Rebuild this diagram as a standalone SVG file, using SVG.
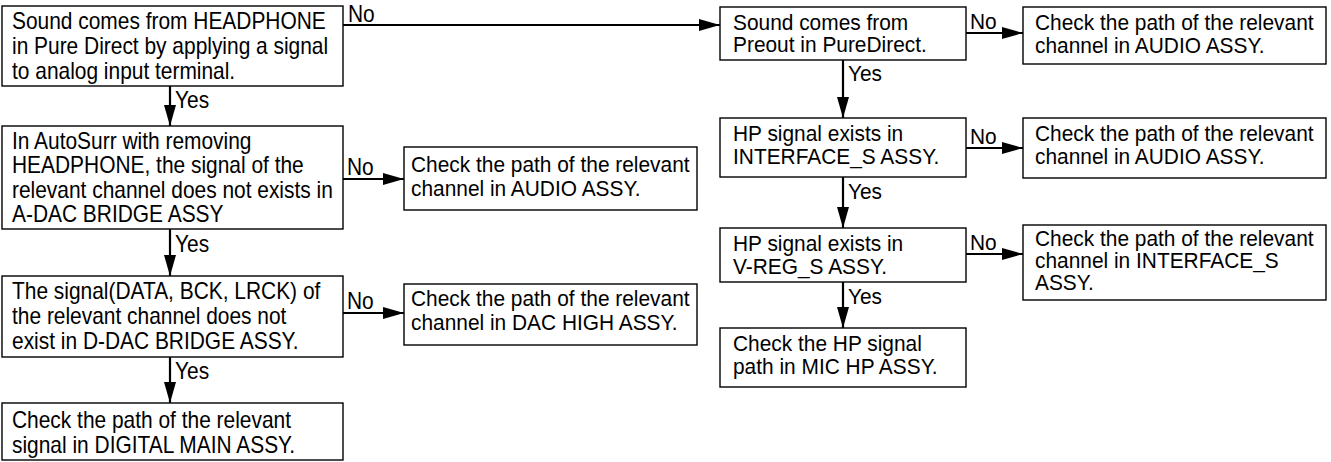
<svg xmlns="http://www.w3.org/2000/svg" width="1331" height="462" viewBox="0 0 1331 462">
<defs>
<style>
.box{fill:#fff;stroke:#000;stroke-width:1.4}
text{font-family:"Liberation Sans",Arial,sans-serif;font-size:23px;fill:#000}
.s{font-size:22px}
.c{stroke:#000;stroke-width:2.2;fill:none}
</style>
<marker id="ah" markerUnits="userSpaceOnUse" markerWidth="22" markerHeight="14" refX="21" refY="7" orient="auto">
<path d="M0,1 L21,7 L0,13 Z" fill="#000"/>
</marker>
</defs>
<rect width="1331" height="462" fill="#fff"/>
<g id="connectors">
<path class="c" d="M343,25 H720" marker-end="url(#ah)"/>
<path class="c" d="M170,86 V126" marker-end="url(#ah)"/>
<path class="c" d="M343,179 H404" marker-end="url(#ah)"/>
<path class="c" d="M170,229 V276" marker-end="url(#ah)"/>
<path class="c" d="M343,313 H404" marker-end="url(#ah)"/>
<path class="c" d="M170,357 V403" marker-end="url(#ah)"/>
<path class="c" d="M966,33 H1023" marker-end="url(#ah)"/>
<path class="c" d="M843,60 V118" marker-end="url(#ah)"/>
<path class="c" d="M966,148 H1023" marker-end="url(#ah)"/>
<path class="c" d="M843,177 V228" marker-end="url(#ah)"/>
<path class="c" d="M966,254 H1023" marker-end="url(#ah)"/>
<path class="c" d="M843,282 V328" marker-end="url(#ah)"/>
<text transform="matrix(0.91 0 0 1 348 22)">No</text>
<text transform="matrix(0.91 0 0 1 175 108)">Yes</text>
<text transform="matrix(0.91 0 0 1 347 175)">No</text>
<text transform="matrix(0.91 0 0 1 175 252)">Yes</text>
<text transform="matrix(0.91 0 0 1 347 309)">No</text>
<text transform="matrix(0.91 0 0 1 175 379)">Yes</text>
<text class="s" transform="matrix(0.95 0 0 1 970 29)">No</text>
<text class="s" transform="matrix(0.95 0 0 1 848 81)">Yes</text>
<text class="s" transform="matrix(0.95 0 0 1 970 144)">No</text>
<text class="s" transform="matrix(0.95 0 0 1 848 199)">Yes</text>
<text class="s" transform="matrix(0.95 0 0 1 970 250)">No</text>
<text class="s" transform="matrix(0.95 0 0 1 848 304)">Yes</text>
</g>
<g id="n1">
<rect class="box" x="2" y="6" width="341" height="80"/>
<g transform="matrix(0.91 0 0 1 12 0)">
<text y="29">Sound comes from HEADPHONE</text>
<text y="54">in Pure Direct by applying a signal</text>
<text y="79">to analog input terminal.</text>
</g>
</g>
<g id="n2">
<rect class="box" x="2" y="126" width="341" height="103"/>
<g transform="matrix(0.91 0 0 1 12 0)">
<text y="149">In AutoSurr with removing</text>
<text y="173.5">HEADPHONE, the signal of the</text>
<text y="198">relevant channel does not exists in</text>
<text y="222.5">A-DAC BRIDGE ASSY</text>
</g>
</g>
<g id="n3">
<rect class="box" x="2" y="276" width="341" height="81"/>
<g transform="matrix(0.91 0 0 1 12 0)">
<text y="299">The signal(DATA, BCK, LRCK) of</text>
<text y="324">the relevant channel does not</text>
<text y="349">exist in D-DAC BRIDGE ASSY.</text>
</g>
</g>
<g id="n4">
<rect class="box" x="2" y="403" width="341" height="57"/>
<g transform="matrix(0.91 0 0 1 12 0)">
<text y="428">Check the path of the relevant</text>
<text y="453">signal in DIGITAL MAIN ASSY.</text>
</g>
</g>
<g id="n2b">
<rect class="box" x="404" y="147" width="293" height="63"/>
<g transform="matrix(0.95 0 0 1 411 0)">
<text class="s" y="172">Check the path of the relevant</text>
<text class="s" y="196">channel in AUDIO ASSY.</text>
</g>
</g>
<g id="n3b">
<rect class="box" x="404" y="284" width="293" height="61"/>
<g transform="matrix(0.95 0 0 1 411 0)">
<text class="s" y="306">Check the path of the relevant</text>
<text class="s" y="330">channel in DAC HIGH ASSY.</text>
</g>
</g>
<g id="r1">
<rect class="box" x="720" y="7" width="246" height="53"/>
<g transform="matrix(0.95 0 0 1 733 0)">
<text class="s" y="30">Sound comes from</text>
<text class="s" y="52">Preout in PureDirect.</text>
</g>
</g>
<g id="r1b">
<rect class="box" x="1023" y="7" width="303" height="57"/>
<g transform="matrix(0.95 0 0 1 1035 0)">
<text class="s" y="30">Check the path of the relevant</text>
<text class="s" y="53">channel in AUDIO ASSY.</text>
</g>
</g>
<g id="r2">
<rect class="box" x="720" y="118" width="246" height="59"/>
<g transform="matrix(0.95 0 0 1 733 0)">
<text class="s" y="141">HP signal exists in</text>
<text class="s" y="164">INTERFACE_S ASSY.</text>
</g>
</g>
<g id="r2b">
<rect class="box" x="1023" y="118" width="303" height="60"/>
<g transform="matrix(0.95 0 0 1 1035 0)">
<text class="s" y="141">Check the path of the relevant</text>
<text class="s" y="164">channel in AUDIO ASSY.</text>
</g>
</g>
<g id="r3">
<rect class="box" x="720" y="228" width="246" height="54"/>
<g transform="matrix(0.95 0 0 1 733 0)">
<text class="s" y="251">HP signal exists in</text>
<text class="s" y="274">V-REG_S ASSY.</text>
</g>
</g>
<g id="r3b">
<rect class="box" x="1023" y="225" width="303" height="75"/>
<g transform="matrix(0.95 0 0 1 1035 0)">
<text class="s" y="246">Check the path of the relevant</text>
<text class="s" y="268">channel in INTERFACE_S</text>
<text class="s" y="290">ASSY.</text>
</g>
</g>
<g id="r4">
<rect class="box" x="720" y="328" width="246" height="59"/>
<g transform="matrix(0.95 0 0 1 733 0)">
<text class="s" y="351">Check the HP signal</text>
<text class="s" y="374">path in MIC HP ASSY.</text>
</g>
</g>
</svg>
